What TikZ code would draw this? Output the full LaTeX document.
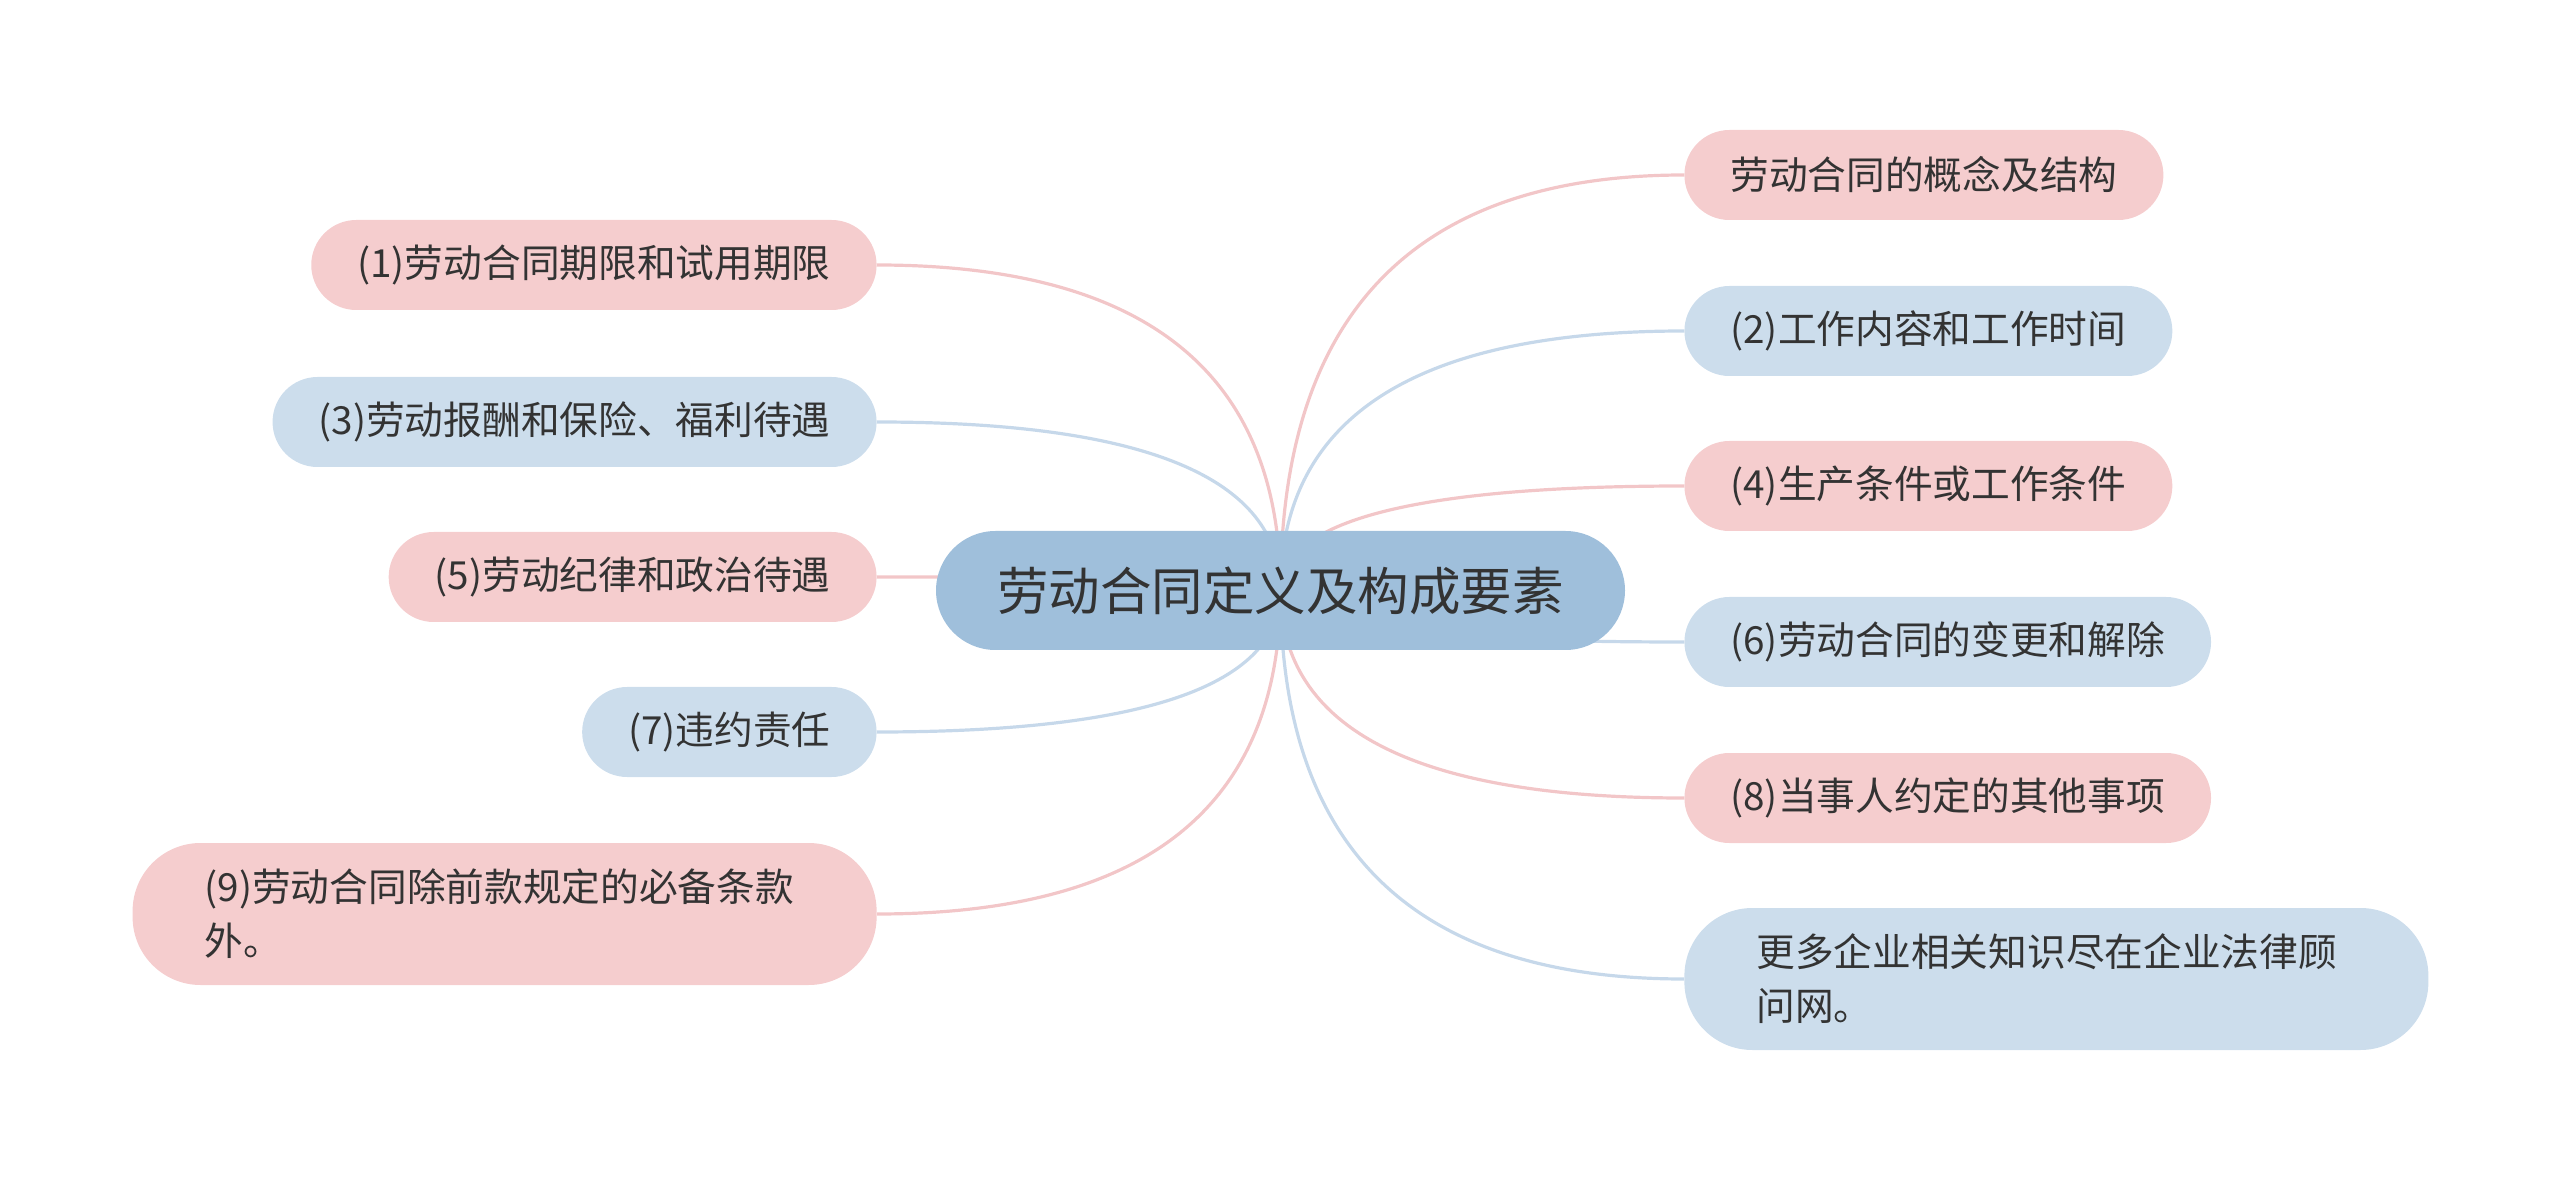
\documentclass[tikz,border=0pt]{standalone}
\usepackage{fontspec}
\setmainfont{Noto Sans CJK SC}
\usetikzlibrary{calc,backgrounds}

\definecolor{rootfill}{HTML}{9FBFDB}
\definecolor{pinkfill}{HTML}{F5CDCE}
\definecolor{bluefill}{HTML}{CCDDEC}
\definecolor{pinkline}{HTML}{F2C6C8}
\definecolor{blueline}{HTML}{C6D8EA}
\definecolor{txt}{HTML}{333333}

\tikzstyle{root}=[rectangle, rounded corners=29.75pt, fill=rootfill, text=txt, minimum width=344.5pt, minimum height=59.5pt, font=\fontsize{25.75pt}{30pt}\selectfont]
\tikzstyle{topic}=[rectangle, rounded corners=22.5pt, text=txt, inner xsep=23pt, minimum height=45pt, font=\fontsize{19.35pt}{27pt}\selectfont]
\tikzstyle{longtopic}=[topic, rounded corners=34pt, inner xsep=36pt, minimum height=71pt, text width=300pt, align=left]
\tikzstyle{branch}=[line width=1.6pt, to path={.. controls ($(\tikztostart)!0.667!(\tikztostart|-\tikztotarget)$) and ($(\tikztotarget)!0.667!(\tikztostart|-\tikztotarget)$) .. (\tikztotarget)}]

\begin{document}
\begin{tikzpicture}[x=0.5pt, y=-0.5pt]
  \useasboundingbox (0,0) rectangle (2560,1181);

  \node[root] (R) at (1280.5,590.5) {劳动合同定义及构成要素};

  % left side
  \node[topic, fill=pinkfill, anchor=east] (L1) at (877,265) {(1)劳动合同期限和试用期限};
  \node[topic, fill=bluefill, anchor=east] (L3) at (877,422) {(3)劳动报酬和保险、福利待遇};
  \node[topic, fill=pinkfill, anchor=east] (L5) at (877,577) {(5)劳动纪律和政治待遇};
  \node[topic, fill=bluefill, anchor=east] (L7) at (877,732) {(7)违约责任};
  \node[longtopic, fill=pinkfill, anchor=east] (L9) at (877,914) {(9)劳动合同除前款规定的必备条款\\外。};

  % right side
  \node[topic, fill=pinkfill, anchor=west] (R0) at (1684,175) {劳动合同的概念及结构};
  \node[topic, fill=bluefill, anchor=west] (R2) at (1684,331) {(2)工作内容和工作时间};
  \node[topic, fill=pinkfill, anchor=west] (R4) at (1684,486) {(4)生产条件或工作条件};
  \node[topic, fill=bluefill, anchor=west] (R6) at (1684,642) {(6)劳动合同的变更和解除};
  \node[topic, fill=pinkfill, anchor=west] (R8) at (1684,798) {(8)当事人约定的其他事项};
  \node[longtopic, fill=bluefill, anchor=west] (R10) at (1684,979) {更多企业相关知识尽在企业法律顾\\问网。};

  \begin{scope}[on background layer]
    \path (R.center) edge[branch, pinkline] (L1.east);
    \path (R.center) edge[branch, blueline] (L3.east);
    \path (R.center) edge[branch, pinkline] (L5.east);
    \path (R.center) edge[branch, blueline] (L7.east);
    \path (R.center) edge[branch, pinkline] (L9.east);
    \path (R.center) edge[branch, pinkline] (R0.west);
    \path (R.center) edge[branch, blueline] (R2.west);
    \path (R.center) edge[branch, pinkline] (R4.west);
    \path (R.center) edge[branch, blueline] (R6.west);
    \path (R.center) edge[branch, pinkline] (R8.west);
    \path (R.center) edge[branch, blueline] (R10.west);
  \end{scope}
\end{tikzpicture}
\end{document}
